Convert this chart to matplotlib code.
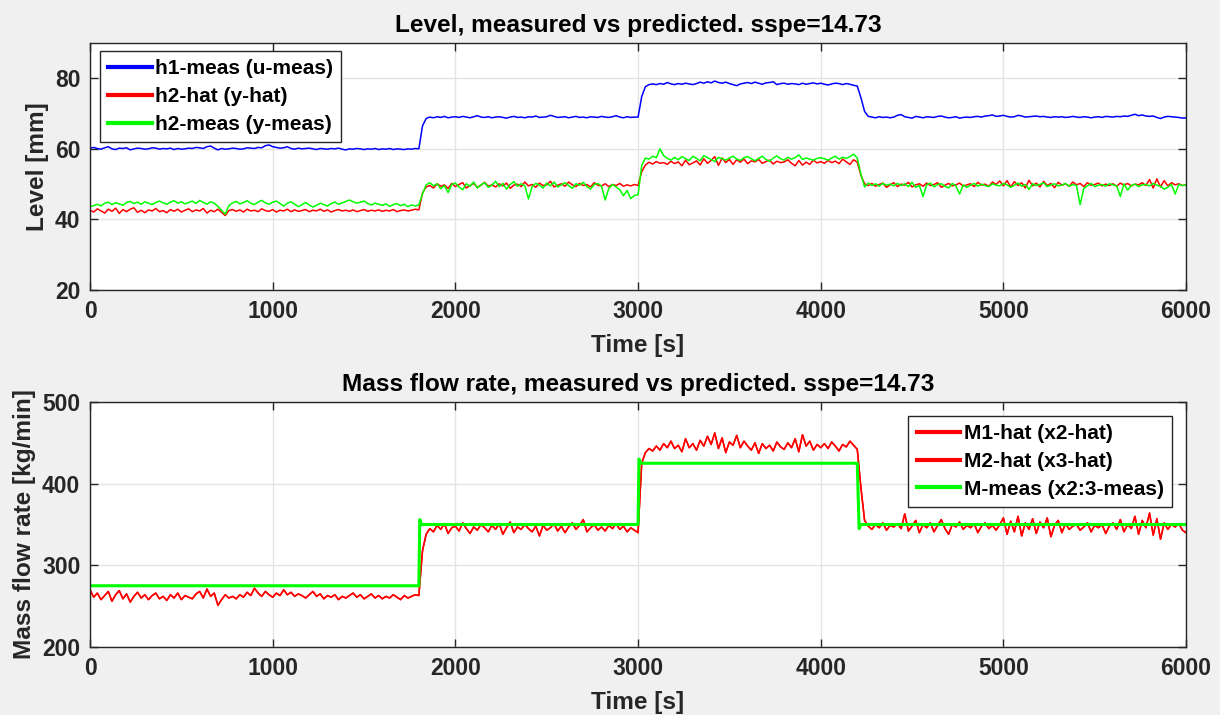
import numpy as np
import matplotlib
matplotlib.use("Agg")
import matplotlib.pyplot as plt

plt.rcParams['font.family'] = ['Liberation Sans', 'DejaVu Sans']
plt.rcParams['font.weight'] = 'bold'

# sample time, one value every 20 s
t = np.arange(0, 6001, 20)

h1_meas = [
    60.2, 60.4, 60.1, 59.9, 60.3, 60.6, 60.0, 59.8, 60.2, 60.1,
    60.3, 59.7, 60.0, 60.2, 60.1, 59.9, 60.0, 60.3, 60.2, 59.9,
    60.1, 60.0, 60.2, 59.8, 60.1, 59.9, 60.0, 60.2, 60.1, 60.4,
    60.3, 60.1, 60.6, 60.8, 60.2, 59.7, 60.1, 59.9, 60.0, 60.2,
    60.1, 59.9, 60.0, 60.3, 60.2, 60.1, 60.4, 60.3, 60.9, 61.1,
    60.6, 60.4, 60.2, 60.3, 60.6, 60.1, 59.9, 60.2, 60.0, 60.1,
    60.2, 60.0, 59.8, 60.1, 60.0, 59.9, 60.1, 60.0, 60.2, 59.9,
    59.7, 60.0, 59.9, 60.1, 60.0, 59.8, 60.0, 59.9, 60.1, 59.8,
    60.0, 59.9, 60.1, 59.8, 60.0, 59.9, 59.8, 60.0, 59.9, 60.1,
    60.0, 66.5, 68.6, 69.0, 68.8, 69.1, 68.9, 69.2, 68.8, 69.0,
    69.1, 68.9, 69.2, 69.0, 68.8, 69.1, 69.4, 69.0, 68.9, 69.1,
    68.8, 69.0, 69.1, 68.9, 68.7, 69.0, 69.2, 68.9, 69.0, 68.8,
    69.1, 69.0, 69.3, 68.9, 69.0, 69.1, 69.5, 69.2, 68.9, 69.0,
    69.1, 68.8, 69.0, 69.2, 68.9, 69.0, 68.8, 69.1, 69.0, 68.9,
    69.2, 69.0, 68.9, 69.1, 69.4, 69.0, 68.8, 69.1, 68.9, 69.0,
    69.0, 74.8, 77.6, 78.2, 78.4, 78.2, 78.5, 78.3, 78.8, 78.4,
    78.2, 78.5, 78.3, 78.6, 78.4, 78.2, 78.5, 78.9, 78.6, 79.0,
    78.7, 79.2, 78.8, 78.6, 78.9, 78.5, 78.2, 77.9, 78.4, 78.6,
    78.8, 78.5, 78.9, 78.6, 78.3, 78.7, 78.8, 79.0, 78.2, 78.5,
    78.6, 78.3, 78.5, 78.4, 78.2, 78.6, 78.3, 78.5, 78.7, 78.4,
    78.6, 78.3, 78.1, 78.4, 78.6, 78.5, 78.2, 78.5, 78.3, 78.0,
    77.8, 74.5, 70.6, 69.2, 69.0, 68.8, 69.1, 68.9, 69.0, 68.8,
    69.0, 69.5, 69.7, 69.1, 68.9, 68.7, 69.2, 69.0, 68.8, 69.1,
    69.0, 68.9, 69.2, 69.3, 69.0, 68.8, 68.9, 69.1, 68.7, 68.9,
    69.0, 68.9, 69.1, 69.2, 69.0, 69.3, 69.4, 69.6, 69.2, 69.3,
    69.5, 69.2, 69.0, 69.1, 69.5, 69.3, 69.0, 69.1, 69.2, 69.3,
    69.1, 69.2, 69.0, 68.9, 69.1, 69.0, 69.1, 68.9, 69.0, 69.2,
    69.0, 68.9, 69.1, 69.0, 68.8, 69.0, 69.1, 68.9, 69.2, 69.1,
    69.0, 69.2, 69.1, 69.3, 69.2, 69.5, 69.8, 69.4, 69.6, 69.3,
    69.2, 69.3, 68.9, 68.6, 69.0, 69.2, 69.1, 69.0, 68.9, 68.7,
    68.8,
]

h2_hat = [
    42.6, 42.1, 43.0, 42.4, 41.8, 42.9, 42.3, 43.2, 41.7, 42.8,
    42.2, 42.9, 43.3, 42.0, 42.6, 41.9, 42.7, 42.4, 43.1, 42.2,
    42.5, 41.9, 42.8, 42.3, 42.9, 42.1, 42.6, 43.0, 42.2, 42.7,
    42.4, 43.1, 41.8, 42.6, 42.2, 42.9, 42.0, 41.1, 42.5, 42.8,
    42.3, 42.7, 42.1, 42.9, 42.4, 42.6, 42.2, 43.0, 42.5, 42.3,
    42.8, 42.1, 42.6, 42.4, 42.9, 42.2, 42.7, 42.3, 42.5, 42.8,
    42.2, 42.6, 42.4, 42.9, 42.3, 42.7, 42.1, 42.5, 42.8, 42.4,
    42.6, 42.3, 42.7, 42.2, 42.5, 42.8, 42.3, 42.6, 42.4, 42.7,
    42.3, 42.6, 42.4, 42.8, 42.2, 42.5, 42.7, 42.4, 42.6, 42.9,
    42.7, 47.5, 49.2, 49.6, 48.9, 50.1, 49.4, 49.8, 48.8, 50.2,
    49.3, 49.9, 50.4, 48.9, 49.6, 50.2, 49.1, 49.7, 50.5, 49.4,
    49.8, 49.2, 50.1, 49.5, 50.3, 48.8, 49.7, 50.0, 49.3, 50.6,
    49.5, 49.9, 49.1, 50.3, 49.6, 49.8, 50.8, 49.2, 49.7, 50.1,
    49.4, 50.6, 49.8, 49.3, 50.2, 49.6, 49.9, 49.2, 50.4, 49.7,
    49.5, 50.1, 49.3, 49.9, 49.6, 50.2, 49.4, 49.8, 49.5, 49.9,
    49.6, 53.5, 55.4, 56.2, 55.7, 56.4, 55.9, 56.1, 55.6, 56.5,
    55.8, 56.3, 55.2, 56.8, 55.5, 56.0, 56.6, 55.4, 57.2, 55.9,
    56.7, 57.8, 55.3, 57.4, 56.1, 57.0, 55.6, 56.9, 56.2, 57.1,
    55.8, 56.6, 56.3, 57.0, 55.9, 56.4, 56.8, 55.7, 56.5, 56.1,
    56.3, 56.9, 55.9, 55.2, 56.7, 55.4, 56.2, 55.6, 56.8, 56.0,
    56.4, 55.9, 56.7, 56.1, 56.5, 55.8, 57.1, 56.3, 55.6, 56.9,
    56.2, 52.5, 50.1, 49.6, 50.2, 49.4, 49.9, 50.3, 49.1, 49.8,
    50.4, 49.3, 50.0, 49.7, 50.5, 49.2, 49.8, 50.1, 49.4, 50.3,
    49.6, 49.9, 50.4, 49.1, 49.7, 50.2, 49.5, 49.8, 50.3, 49.4,
    49.8, 50.1, 49.3, 50.5, 49.7, 50.0, 49.4, 50.6, 49.9, 50.9,
    49.5, 51.0, 49.2, 50.7, 49.6, 50.4, 48.9, 51.1, 49.5, 50.3,
    49.2, 50.8, 49.6, 50.2, 49.0, 50.5, 49.7, 50.1, 49.4, 50.6,
    49.8, 50.2, 49.3, 50.4, 49.7, 49.9, 50.3, 49.5, 50.0, 49.6,
    50.1, 49.4, 50.3, 49.7, 50.2, 49.5, 50.0, 49.8, 50.4, 49.6,
    51.3, 48.9, 51.5, 49.2, 51.0, 49.5, 50.4, 49.8, 50.1, 49.6,
    49.8,
]

h2_meas = [
    43.6, 43.9, 44.3, 43.8, 44.6, 44.9, 44.2, 44.7, 44.4, 44.0,
    44.8, 45.1, 44.5, 44.9, 44.3, 45.0, 44.6, 44.2, 44.8, 45.2,
    44.7, 44.3, 44.9, 45.3, 44.6, 45.0, 44.4, 44.8, 45.2, 44.5,
    45.4, 44.8, 44.3, 45.0, 44.6, 43.7, 42.6, 41.5, 43.9, 44.7,
    45.1, 44.4, 44.8, 45.3, 44.6, 44.2, 44.9, 45.4, 44.7, 44.3,
    44.9, 45.2, 44.5, 43.8, 44.6, 45.0, 44.3, 43.6, 44.2, 44.8,
    44.1, 43.5, 44.0, 44.6, 44.2, 43.8, 44.5, 44.9, 44.3, 44.7,
    45.1, 45.5, 45.0, 44.6, 44.9, 45.2, 44.5, 44.1, 44.6, 44.3,
    44.0, 44.4, 43.7, 44.2, 44.5, 43.9, 44.3, 43.6, 44.1, 43.8,
    44.1, 47.2, 49.8, 50.4, 49.5, 50.1, 48.7, 49.6, 47.6, 49.9,
    50.3, 49.2, 48.4, 50.1, 49.4, 50.6, 48.9, 49.8, 50.4, 49.1,
    49.7, 50.8, 49.3, 50.2, 48.6, 49.9, 50.7, 49.4, 50.1, 49.6,
    45.8, 49.3, 50.2, 49.7, 48.9, 50.3, 49.5, 50.6, 49.2, 49.8,
    50.4, 49.6, 48.8, 50.1, 49.7, 50.5, 49.3, 48.6, 49.9, 50.2,
    49.4, 45.5, 48.8, 49.9, 49.2, 48.4, 46.7, 48.2, 45.9, 46.8,
    47.0, 55.3, 57.4, 57.1, 57.9, 57.5, 60.0, 58.1, 57.3, 56.8,
    57.6, 56.9, 57.8, 57.2, 56.7, 57.9, 57.3, 56.6, 58.1, 57.5,
    57.0, 56.4, 57.6, 57.2, 56.8, 57.4, 57.9, 57.1, 56.7, 57.5,
    57.8, 57.2, 56.6, 57.3, 57.9, 57.0, 56.5, 57.4, 58.0, 57.2,
    56.8, 57.6, 57.1, 57.5, 58.3, 57.0, 57.4, 57.1, 56.8, 57.3,
    57.5, 57.2, 56.8, 57.4, 57.9, 57.1, 57.6, 57.3, 57.8, 58.5,
    57.4, 52.8, 49.2, 50.3, 49.6, 50.1, 49.4, 50.2, 49.7, 50.0,
    49.5, 50.2, 49.6, 50.1, 49.3, 50.5, 49.1, 49.6, 46.5, 49.8,
    50.3, 49.2, 49.9, 50.1, 49.4, 48.9, 50.2, 49.5, 47.2, 49.8,
    49.1, 49.7, 50.2, 49.4, 50.0, 49.6, 49.3, 50.1, 49.7, 49.5,
    50.2, 49.8, 49.1, 49.7, 50.3, 49.4, 49.9, 48.5, 50.1, 49.6,
    49.9, 50.4, 49.3, 49.8, 50.1, 49.5, 49.7, 50.2, 49.4, 49.9,
    49.6, 44.2, 48.8, 49.5, 50.2, 49.3, 49.7, 49.9, 49.4, 50.1,
    49.8, 49.5, 46.5, 50.1, 48.3, 49.6, 50.0, 49.3, 49.8, 49.9,
    49.5, 50.2, 49.7, 49.4, 48.6, 49.1, 50.0, 47.2, 49.9, 49.6,
    49.8,
]

m_hat = [
    270, 261, 266, 258, 263, 268, 256, 264, 269, 259,
    265, 255, 262, 267, 260, 264, 258, 263, 266, 259,
    262, 257, 264, 260, 266, 258, 263, 261, 259, 265,
    268, 260, 271, 262, 266, 251, 258, 264, 260, 262,
    259, 264, 261, 267, 263, 272, 266, 262, 268, 264,
    261, 266, 263, 270, 264, 267, 262, 265, 263, 260,
    264, 268, 262, 265, 259, 263, 261, 264, 258, 262,
    260, 263, 266, 261, 264, 259, 262, 265, 260, 263,
    259, 262, 260, 264, 261, 258, 263, 260, 262, 264,
    263, 318, 338, 345, 341, 349, 344, 351, 339, 346,
    348, 342, 352, 345, 339, 347, 343, 350, 346, 341,
    349, 344, 351, 338, 346, 353, 340, 347, 344, 350,
    345, 341, 348, 336, 349, 343, 346, 351, 342, 348,
    340, 347, 352, 344, 349, 356, 341, 346, 350, 343,
    347, 342, 349, 345, 351, 344, 348, 341, 346, 343,
    340, 425, 438, 443, 440, 446, 441, 449, 444, 452,
    443, 447, 439, 455, 444, 449, 441, 453, 446, 458,
    448, 462, 443, 456, 438, 451, 447, 459, 444, 452,
    446, 441, 450, 437, 449, 443, 447, 440, 451, 445,
    442, 450, 444, 455, 439, 460, 446, 452, 441, 448,
    444, 449, 443, 451, 446, 440, 448, 445, 452, 447,
    442, 395, 355, 348, 344, 350, 346, 352, 343, 349,
    347, 351, 345, 363, 342, 348, 355, 340, 350, 346,
    352, 341, 349, 356, 345, 338, 350, 347, 353, 344,
    349, 346, 351, 340, 348, 352, 345, 349, 343, 350,
    358, 338, 354, 341, 360, 336, 352, 344, 357, 339,
    353, 346, 358, 335, 349, 355, 340, 351, 344, 348,
    350, 343, 347, 352, 341, 349, 346, 350, 339, 348,
    352, 344, 356, 341, 350, 345, 360, 338, 355, 346,
    364, 337, 357, 332, 352, 344, 350, 347, 351, 343,
    340,
]

# measured mass flow: set-point steps
t_m_meas = [0, 1800, 1805, 1815, 3000, 3005, 3015, 4200, 4210, 4220, 6000]
m_meas = [275, 275, 356, 350, 350, 430, 425, 425, 345, 350, 350]

title_top = "Level, measured vs predicted. sspe=14.73"
title_bot = "Mass flow rate, measured vs predicted. sspe=14.73"
labels_top = ["h1-meas (u-meas)", "h2-hat (y-hat)", "h2-meas (y-meas)"]
labels_bot = ["M1-hat (x2-hat)", "M2-hat (x3-hat)", "M-meas (x2:3-meas)"]

BLUE, RED, GREEN = "#0000ff", "#ff0000", "#00ff00"
AXC = "#262626"

fig = plt.figure(figsize=(12.2, 7.15), dpi=100, facecolor="#f0f0f0")
ax1 = fig.add_axes([0.0738, 0.5944, 0.8984, 0.3455])
ax2 = fig.add_axes([0.0738, 0.0951, 0.8984, 0.3427])


def style(ax, ylim, yticks):
    ax.set_xlim(0, 6000)
    ax.set_ylim(*ylim)
    ax.set_xticks([0, 1000, 2000, 3000, 4000, 5000, 6000])
    ax.set_yticks(yticks)
    ax.grid(True, color="#e3e3e3", linewidth=1.0)
    ax.set_axisbelow(True)
    ax.tick_params(direction="in", top=True, right=True, length=6,
                   width=1.0, colors=AXC, labelsize=16.5, pad=7)
    for s in ax.spines.values():
        s.set_color(AXC)
        s.set_linewidth(1.0)
    for lab in ax.get_xticklabels() + ax.get_yticklabels():
        lab.set_fontweight("bold")
    ax.set_xlabel("Time [s]", fontsize=17.6, fontweight="bold", color=AXC, labelpad=8)


legend_kw = dict(borderaxespad=0, fancybox=False, edgecolor=AXC, framealpha=1,
                 prop={"size": 15, "weight": "bold"}, handlelength=2.1,
                 handletextpad=0.15, labelspacing=0.42, borderpad=0.4)

l1, = ax1.plot(t, h1_meas, color=BLUE, lw=1.1)
l2, = ax1.plot(t, h2_hat, color=RED, lw=1.1)
l3, = ax1.plot(t, h2_meas, color=GREEN, lw=1.1)
style(ax1, (20, 90), [20, 40, 60, 80])
ax1.set_ylabel("Level [mm]", fontsize=17.6, fontweight="bold", color=AXC, labelpad=4)
ax1.set_title(title_top, fontsize=17.6, fontweight="bold", color="black", pad=8)
leg1 = ax1.legend([l1, l2, l3], labels_top, loc="upper left",
                  bbox_to_anchor=(0.009, 0.967), **legend_kw)

m1, = ax2.plot(t, m_hat, color=RED, lw=1.1)
m2, = ax2.plot(t, m_hat, color=RED, lw=1.1)
m3, = ax2.plot(t_m_meas, m_meas, color=GREEN, lw=2.2)
style(ax2, (200, 500), [200, 300, 400, 500])
ax2.set_ylabel("Mass flow rate [kg/min]", fontsize=17.6, fontweight="bold",
               color=AXC, labelpad=4)
ax2.set_title(title_bot, fontsize=17.6, fontweight="bold", color="black", pad=8)
leg2 = ax2.legend([m1, m2, m3], labels_bot, loc="upper right",
                  bbox_to_anchor=(0.987, 0.943), **legend_kw)

for leg in (leg1, leg2):
    leg.get_frame().set_linewidth(1.0)
    for h in leg.legend_handles:
        h.set_linewidth(3)

fig.savefig("out.png", dpi=100, facecolor=fig.get_facecolor())
